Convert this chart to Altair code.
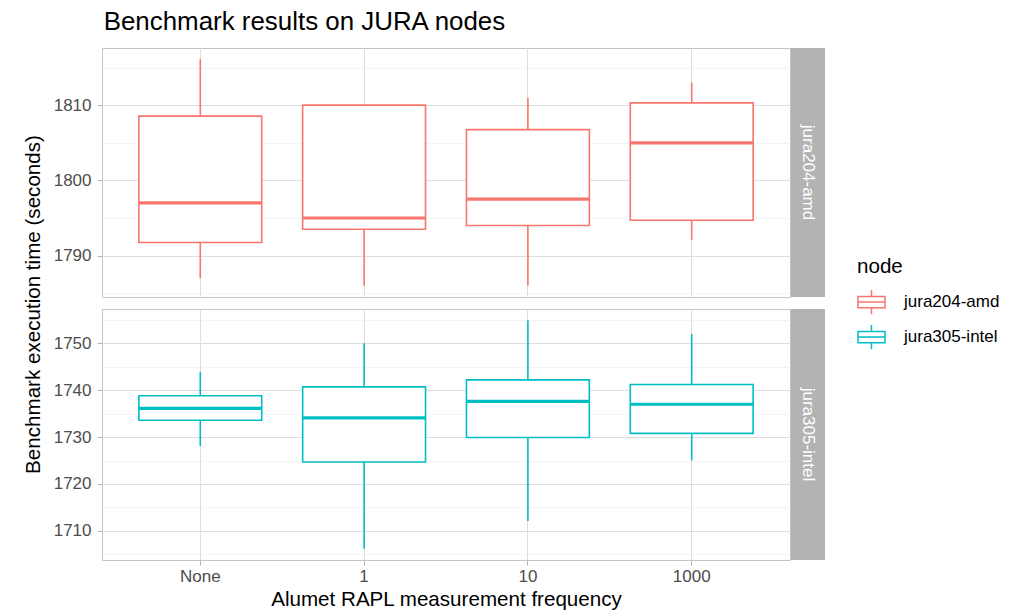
import altair as alt
import pandas as pd

FONT = "Liberation Sans"

freqs = ["None", "1", "10", "1000"]
nodes = ["jura204-amd", "jura305-intel"]
colors = ["#F8766D", "#00BFC4"]

# jura204-amd box statistics
amd_lower = [1787.0, 1786.0, 1786.0, 1792.1]
amd_q1 = [1791.75, 1793.5, 1794.0, 1794.7]
amd_median = [1797.0, 1795.0, 1797.5, 1805.0]
amd_q3 = [1808.55, 1810.0, 1806.75, 1810.3]
amd_upper = [1816.1, 1810.0, 1811.0, 1813.0]

# jura305-intel box statistics
intel_lower = [1728.1, 1706.2, 1712.1, 1725.0]
intel_q1 = [1733.6, 1724.7, 1729.9, 1730.8]
intel_median = [1736.1, 1734.1, 1737.6, 1737.0]
intel_q3 = [1738.8, 1740.7, 1742.2, 1741.2]
intel_upper = [1743.9, 1750.0, 1754.9, 1752.0]

amd_domain = [1784.5, 1817.6]
intel_domain = [1703.8, 1757.3]
amd_ticks = [1785, 1790, 1795, 1800, 1805, 1810, 1815]
intel_ticks = [1705, 1710, 1715, 1720, 1725, 1730, 1735, 1740, 1745, 1750, 1755]

W = 688
H1 = 249
H2 = 251
GAP = 12
STRIP = 34
TICK_FS = 17

BOX_PATH = ("M-1,-0.42L1,-0.42L1,0.42L-1,0.42Z M-1,0L1,0 "
            "M0,-0.42L0,-0.9 M0,0.42L0,0.9")


def make_df(node, lo, q1, med, q3, hi):
    return pd.DataFrame({"node": node, "freq": freqs, "lo": lo, "q1": q1,
                         "med": med, "q3": q3, "hi": hi})


MAJOR = "datum.value % 10 === 0"


def panel(df, idx, domain, ticks, height, bottom):
    node = nodes[idx]
    if bottom:
        xaxis = alt.Axis(title="Alumet RAPL measurement frequency", labelAngle=0,
                         labelFontSize=TICK_FS, labelColor="#4D4D4D", labelFont=FONT,
                         labelPadding=3, tickColor="#B3B3B3", tickSize=5,
                         domain=False, grid=True, gridColor="#DEDEDE", gridWidth=1.1,
                         bandPosition=0.5, titleFontSize=20.6, titleFont=FONT,
                         titleFontWeight="normal", titleColor="black", titlePadding=5)
    else:
        xaxis = alt.Axis(title=None, labels=False, ticks=False, domain=False,
                         grid=True, gridColor="#DEDEDE", gridWidth=1.1, bandPosition=0.5)
    x = alt.X("freq:N", sort=freqs,
              scale=alt.Scale(domain=freqs, paddingInner=0.25, paddingOuter=0.225),
              axis=xaxis)
    yaxis_kw = dict(values=ticks, format="d",
                    labelExpr=f"{MAJOR} ? datum.label : ''",
                    gridColor={"condition": {"test": MAJOR, "value": "#DEDEDE"}, "value": "#EFEFEF"},
                    gridWidth={"condition": {"test": MAJOR, "value": 1.1}, "value": 0.7},
                    tickColor={"condition": {"test": MAJOR, "value": "#B3B3B3"}, "value": "rgba(0,0,0,0)"},
                    tickSize=5, domain=False, labelFontSize=TICK_FS, labelColor="#4D4D4D",
                    labelFont=FONT, labelPadding=6)
    title = None
    if not bottom:
        title = "Benchmark execution time (seconds)"
        yaxis = alt.Axis(title=title, titleFontSize=20.6,
                         titleFont=FONT, titleFontWeight="normal", titleColor="black",
                         titleY=(H1 + GAP + H2) / 2, titlePadding=10, **yaxis_kw)
    else:
        yaxis = alt.Axis(title=None, **yaxis_kw)
    yscale = alt.Scale(domain=domain, nice=False, zero=False)
    color = alt.Color("node:N", scale=alt.Scale(domain=nodes, range=colors),
                      legend=alt.Legend(title="node", orient="none", legendX=755, legendY=209,
                                        symbolType=BOX_PATH, symbolSize=729,
                                        symbolStrokeWidth=1.5, symbolFillColor="white",
                                        labelFontSize=TICK_FS, labelFont=FONT, labelColor="black",
                                        titleFontSize=20.6, titleFont=FONT,
                                        titleFontWeight="normal", titleColor="black",
                                        titlePadding=10, rowPadding=4, labelOffset=18))
    base = alt.Chart(df)
    bg = base.mark_bar(color="white").encode(
        x=x, y=alt.Y("q1:Q", scale=yscale, axis=yaxis, title=title), y2="q3:Q")
    lower = base.mark_rule(strokeWidth=1.6).encode(
        x=x, y=alt.Y("lo:Q", scale=yscale, axis=yaxis, title=title), y2="q1:Q", color=color)
    upper = base.mark_rule(strokeWidth=1.6).encode(
        x=x, y=alt.Y("q3:Q", scale=yscale, axis=yaxis, title=title), y2="hi:Q", color=color)
    box = base.mark_bar(filled=False, strokeWidth=1.6).encode(
        x=x, y=alt.Y("q1:Q", scale=yscale, axis=yaxis, title=title), y2="q3:Q", color=color)
    med = base.mark_tick(size=123, thickness=3.2, opacity=1, color=colors[idx]).encode(
        x=x, y=alt.Y("med:Q", scale=yscale, axis=yaxis, title=title))
    sdf = pd.DataFrame({"node": [node]})
    strip = alt.Chart(sdf).mark_rect(color="#B3B3B3").encode(
        x=alt.value(W + 1), x2=alt.value(W + 1 + STRIP), y=alt.value(0), y2=alt.value(height))
    stext = alt.Chart(sdf).mark_text(angle=90, color="white", fontSize=TICK_FS, font=FONT,
                                     baseline="middle", align="center").encode(
        x=alt.value(W + 1 + STRIP / 2), y=alt.value(height / 2), text="node:N")
    return alt.layer(bg, lower, upper, box, med, strip, stext).properties(width=W, height=height)


top = panel(make_df(nodes[0], amd_lower, amd_q1, amd_median, amd_q3, amd_upper),
            0, amd_domain, amd_ticks, H1, False)
bottom = panel(make_df(nodes[1], intel_lower, intel_q1, intel_median, intel_q3, intel_upper),
               1, intel_domain, intel_ticks, H2, True)

chart = alt.vconcat(top, bottom, spacing=GAP, bounds="flush").resolve_scale(
    y="independent", color="shared"
).properties(
    title=alt.TitleParams("Benchmark results on JURA nodes", anchor="start", fontSize=25.9,
                          font=FONT, fontWeight="normal", color="black", offset=12, dx=81),
    background="white",
    padding={"left": 14, "top": 0, "right": 5, "bottom": 5},
).configure_view(stroke="#C4C4C4", strokeWidth=1)

chart.save("out.html", embed_options={"renderer": "svg", "actions": False})
